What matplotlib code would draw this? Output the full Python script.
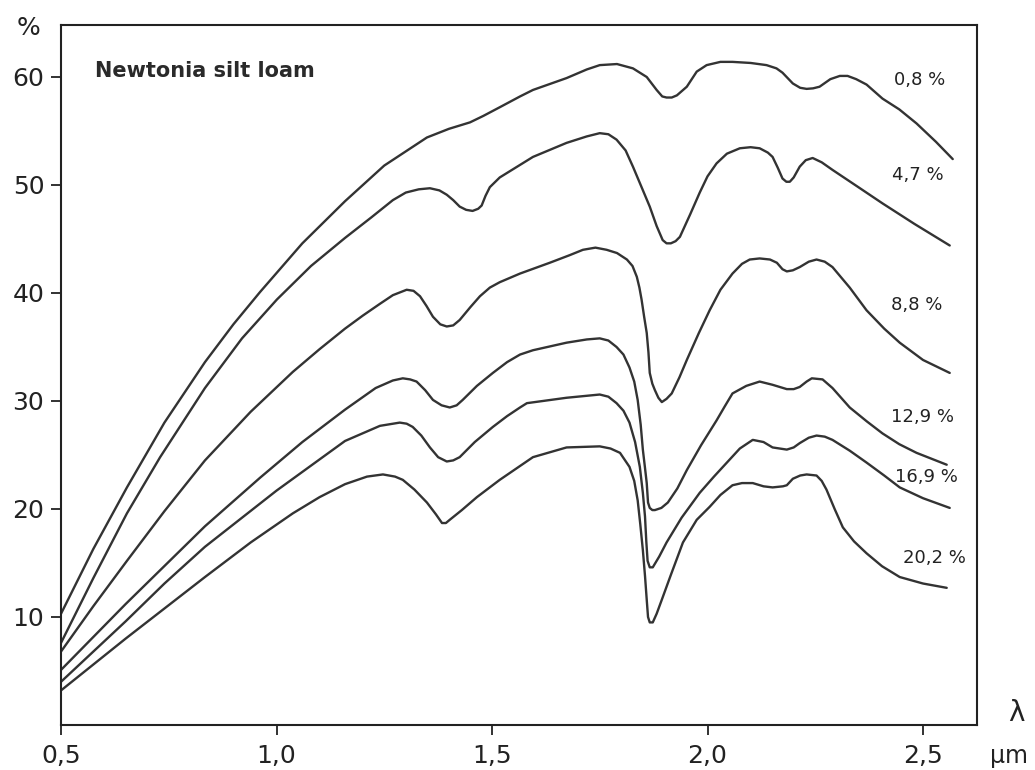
import matplotlib
matplotlib.use("Agg")
import matplotlib.pyplot as plt
from matplotlib.ticker import FixedLocator, FuncFormatter

# ---- data (wavelength in micrometres, reflectance in %) ----
wl_08 = [0.5, 0.575, 0.653, 0.74, 0.834, 0.9, 0.962, 1.06, 1.159, 1.25, 1.349, 1.40, 1.449, 1.48,
         1.518, 1.565, 1.595, 1.673, 1.72, 1.750, 1.79, 1.827, 1.859, 1.882, 1.895, 1.905, 1.917,
         1.929, 1.952, 1.975, 1.998, 2.03, 2.058, 2.10, 2.137, 2.16, 2.174, 2.198, 2.215, 2.230,
         2.245, 2.260, 2.285, 2.307, 2.325, 2.345, 2.369, 2.406, 2.445, 2.485, 2.53, 2.569]
r_08 = [10.3, 16.3, 22.0, 28.0, 33.6, 37.1, 40.1, 44.6, 48.5, 51.8, 54.4, 55.2, 55.8, 56.4,
        57.2, 58.2, 58.8, 59.9, 60.7, 61.1, 61.2, 60.8, 60.0, 58.8, 58.2, 58.1, 58.1,
        58.3, 59.1, 60.5, 61.1, 61.4, 61.4, 61.3, 61.1, 60.8, 60.4, 59.4, 59.0, 58.9,
        58.95, 59.1, 59.8, 60.1, 60.1, 59.8, 59.3, 58.0, 57.0, 55.7, 54.0, 52.4]

wl_47 = [0.5, 0.575, 0.653, 0.730, 0.834, 0.92, 1.001, 1.08, 1.159, 1.22, 1.270, 1.30, 1.330,
         1.356, 1.378, 1.395, 1.41, 1.425, 1.44, 1.455, 1.468, 1.476, 1.485, 1.495, 1.518, 1.595,
         1.673, 1.72, 1.750, 1.77, 1.789, 1.81, 1.827, 1.846, 1.866, 1.882, 1.896, 1.905, 1.915,
         1.926, 1.936, 1.96, 1.982, 2.0, 2.021, 2.045, 2.075, 2.10, 2.121, 2.14, 2.151, 2.163,
         2.174, 2.183, 2.191, 2.20, 2.214, 2.228, 2.244, 2.265, 2.290, 2.35, 2.406, 2.48, 2.562]
r_47 = [7.6, 13.6, 19.6, 24.8, 31.2, 35.8, 39.4, 42.5, 45.1, 47.0, 48.6, 49.3, 49.6,
        49.7, 49.5, 49.1, 48.6, 48.0, 47.7, 47.6, 47.8, 48.1, 49.0, 49.8, 50.7, 52.6,
        53.9, 54.5, 54.8, 54.7, 54.2, 53.2, 51.7, 49.9, 48.0, 46.2, 44.9, 44.6, 44.6,
        44.8, 45.2, 47.3, 49.3, 50.8, 52.0, 52.9, 53.4, 53.5, 53.4, 53.0, 52.6, 51.6,
        50.6, 50.3, 50.3, 50.7, 51.7, 52.3, 52.5, 52.1, 51.4, 49.8, 48.3, 46.4, 44.4]

wl_88 = [0.5, 0.575, 0.653, 0.74, 0.834, 0.94, 1.038, 1.10, 1.159, 1.20, 1.240, 1.27, 1.302,
         1.318, 1.333, 1.348, 1.363, 1.38, 1.395, 1.41, 1.425, 1.45, 1.472, 1.495, 1.518, 1.565,
         1.634, 1.68, 1.711, 1.74, 1.766, 1.79, 1.813, 1.826, 1.836, 1.842, 1.847, 1.853, 1.859,
         1.863, 1.866, 1.872, 1.878, 1.886, 1.894, 1.905, 1.917, 1.935, 1.952, 1.98, 2.005, 2.03,
         2.058, 2.08, 2.098, 2.121, 2.145, 2.161, 2.174, 2.184, 2.198, 2.214, 2.235, 2.253, 2.272,
         2.290, 2.33, 2.369, 2.41, 2.446, 2.50, 2.562]
r_88 = [6.8, 11.0, 15.2, 19.8, 24.5, 29.0, 32.7, 34.8, 36.7, 37.9, 39.0, 39.8, 40.3,
        40.2, 39.7, 38.8, 37.8, 37.1, 36.9, 37.0, 37.5, 38.7, 39.7, 40.5, 41.0, 41.8,
        42.8, 43.5, 44.0, 44.2, 44.0, 43.7, 43.1, 42.5, 41.5, 40.5, 39.4, 37.8, 36.3,
        34.5, 32.6, 31.6, 31.0, 30.3, 29.9, 30.2, 30.7, 32.2, 33.8, 36.3, 38.4, 40.3,
        41.8, 42.7, 43.1, 43.2, 43.1, 42.8, 42.2, 42.0, 42.1, 42.4, 42.9, 43.1, 42.9,
        42.4, 40.5, 38.4, 36.7, 35.4, 33.8, 32.6]

wl_129 = [0.5, 0.65, 0.834, 0.962, 1.06, 1.159, 1.23, 1.27, 1.293, 1.31, 1.325, 1.345, 1.363,
          1.383, 1.402, 1.418, 1.432, 1.465, 1.502, 1.535, 1.565, 1.595, 1.673, 1.72, 1.750,
          1.77, 1.789, 1.805, 1.819, 1.83, 1.838, 1.845, 1.850, 1.855, 1.859, 1.862, 1.866,
          1.872, 1.878, 1.893, 1.908, 1.93, 1.952, 1.985, 2.021, 2.04, 2.058, 2.09, 2.121, 2.151,
          2.184, 2.2, 2.214, 2.23, 2.242, 2.267, 2.29, 2.330, 2.37, 2.406, 2.445, 2.485, 2.555]
r_129 = [5.1, 11.2, 18.4, 22.9, 26.2, 29.2, 31.2, 31.9, 32.1, 32.0, 31.8, 31.0, 30.1,
         29.6, 29.4, 29.6, 30.1, 31.4, 32.6, 33.6, 34.3, 34.7, 35.4, 35.7, 35.8,
         35.6, 35.0, 34.3, 33.1, 31.8, 30.1, 27.8, 25.5, 23.8, 22.4, 20.6, 20.1,
         19.9, 19.9, 20.1, 20.6, 21.9, 23.6, 25.9, 28.2, 29.5, 30.7, 31.4, 31.8, 31.5,
         31.1, 31.1, 31.3, 31.8, 32.1, 32.0, 31.2, 29.4, 28.1, 27.0, 26.0, 25.2, 24.1]

wl_169 = [0.5, 0.65, 0.74, 0.834, 1.0, 1.159, 1.24, 1.286, 1.302, 1.316, 1.336, 1.356, 1.375, 1.395,
          1.41, 1.425, 1.46, 1.502, 1.535, 1.565, 1.581, 1.673, 1.750, 1.77, 1.789, 1.805, 1.819,
          1.832, 1.843, 1.850, 1.855, 1.858, 1.861, 1.866, 1.873, 1.888, 1.905, 1.94, 1.982, 2.015,
          2.045, 2.075, 2.105, 2.13, 2.151, 2.184, 2.2, 2.214, 2.235, 2.253, 2.272, 2.290, 2.33,
          2.369, 2.41, 2.446, 2.50, 2.562]
r_169 = [4.0, 9.6, 13.1, 16.5, 21.7, 26.3, 27.7, 28.0, 27.9, 27.6, 26.8, 25.7, 24.8, 24.4,
         24.5, 24.8, 26.2, 27.6, 28.6, 29.4, 29.8, 30.3, 30.6, 30.4, 29.8, 29.1, 28.0,
         26.2, 23.9, 21.5, 19.3, 17.0, 15.2, 14.6, 14.6, 15.6, 16.9, 19.2, 21.5, 23.0,
         24.3, 25.6, 26.4, 26.2, 25.7, 25.5, 25.7, 26.1, 26.6, 26.8, 26.7, 26.4, 25.4,
         24.3, 23.1, 22.0, 21.0, 20.1]

wl_202 = [0.5, 0.65, 0.834, 0.94, 1.038, 1.10, 1.159, 1.21, 1.247, 1.275, 1.293, 1.32, 1.349,
          1.37, 1.384, 1.393, 1.402, 1.43, 1.465, 1.518, 1.595, 1.673, 1.750, 1.775, 1.797, 1.819,
          1.83, 1.838, 1.844, 1.850, 1.855, 1.859, 1.862, 1.866, 1.873, 1.882, 1.894, 1.915, 1.943,
          1.975, 2.005, 2.03, 2.058, 2.08, 2.105, 2.13, 2.151, 2.175, 2.184, 2.198, 2.215, 2.230,
          2.253, 2.265, 2.276, 2.295, 2.314, 2.34, 2.369, 2.405, 2.446, 2.50, 2.555]
r_202 = [3.2, 8.0, 13.7, 16.9, 19.6, 21.1, 22.3, 23.0, 23.2, 23.0, 22.7, 21.8, 20.6,
         19.5, 18.7, 18.7, 19.0, 19.9, 21.1, 22.7, 24.8, 25.7, 25.8, 25.6, 25.2, 23.9,
         22.6, 20.8, 18.6, 16.2, 13.8, 11.6, 10.0, 9.5, 9.5, 10.3, 11.6, 13.9, 16.9,
         19.0, 20.2, 21.3, 22.2, 22.4, 22.4, 22.1, 22.0, 22.1, 22.2, 22.8, 23.1, 23.2,
         23.1, 22.6, 21.8, 20.0, 18.3, 17.0, 15.9, 14.7, 13.7, 13.1, 12.7]

moisture_labels = ["0,8 %", "4,7 %", "8,8 %", "12,9 %", "16,9 %", "20,2 %"]
x_ticks = [0.5, 1.0, 1.5, 2.0, 2.5]
y_ticks = [10, 20, 30, 40, 50, 60]
title_text = "Newtonia silt loam"

series = [(wl_08, r_08), (wl_47, r_47), (wl_88, r_88),
          (wl_129, r_129), (wl_169, r_169), (wl_202, r_202)]
label_pos = [(2.493, 59.7), (2.488, 50.9), (2.486, 38.9),
             (2.498, 28.5), (2.509, 23.0), (2.526, 15.5)]

# ---- figure ----
W, H = 1035, 770
fig = plt.figure(figsize=(W / 100, H / 100), dpi=100)
ax = fig.add_axes([61 / W, 45 / H, (977 - 61) / W, (725 - 25) / H])

line_color = "#333333"
for (wl, r) in series:
    ax.plot(wl, r, color=line_color, lw=1.7, solid_joinstyle="round", solid_capstyle="round")

ax.set_xlim(0.5, 0.5 + 916 / 431)
ax.set_ylim(0, 700 / 10.8)

ax.xaxis.set_major_locator(FixedLocator(x_ticks))
ax.yaxis.set_major_locator(FixedLocator(y_ticks))
ax.xaxis.set_major_formatter(FuncFormatter(lambda v, p: f"{v:.1f}".replace(".", ",")))
ax.yaxis.set_major_formatter(FuncFormatter(lambda v, p: f"{int(v)}"))

ax.tick_params(axis="both", direction="out", length=7, width=1.3, colors="#222222",
               labelsize=18, pad=5)
ax.tick_params(axis="x", pad=7)
for s in ax.spines.values():
    s.set_linewidth(1.5)
    s.set_color("#222222")

for lab, (lx, ly) in zip(moisture_labels, label_pos):
    ax.text(lx, ly, lab, ha="center", va="center", fontsize=13, color="#222222")

ax.text(0.579, 60.6, title_text, ha="left", va="center", fontsize=15,
        fontweight="bold", color="#2a2a2a")

fig.text(28 / W, 1 - 28 / H, "%", ha="center", va="center", fontsize=18, color="#222222")
fig.text(1016 / W, 1 - 713 / H, "λ", ha="center", va="center", fontsize=20, color="#222222")
fig.text(1009 / W, 1 - 756 / H, "µm", ha="center", va="center", fontsize=17, color="#222222")

fig.savefig("out.png", dpi=100)
